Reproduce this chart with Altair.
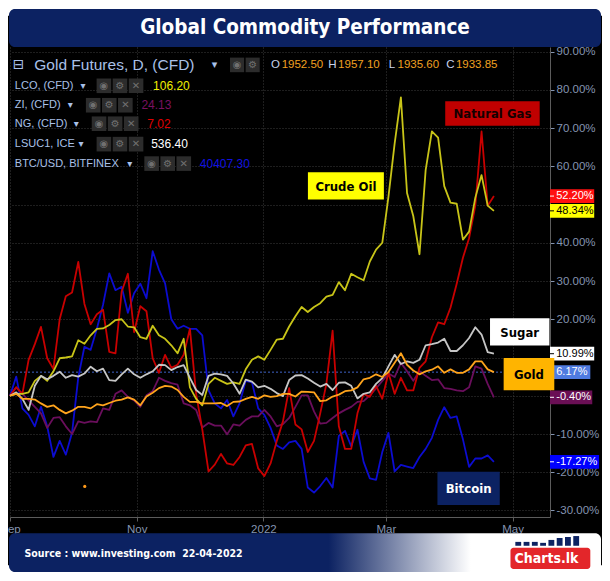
import altair as alt
import pandas as pd

# ---------------- data (percent change since 1 Sep 2021) ----------------
dates = pd.date_range("2021-09-01", "2022-04-22", periods=79).round("h")

crude_oil = [0, 0.5, 0.5, 0.9, 3.9, 5.2, 3.9, 6.4, 9.8, 10, 10.3, 14.5, 13.6, 15.8, 17.5, 17.6, 18.5, 19.8, 20, 18.1,
             17.9, 15.3, 14.9, 18.3, 15.8, 14.9, 13.2, 11.1, 14.9, 2.2, -0.8, -2.5, 3.1, 4.7, 3.9, 3.1, 3.5, 3.1, 6.9, 9.4,
             10.3, 9.4, 12, 14.7, 14.9, 18.1, 20.8, 23.2, 21.9, 23.2, 24.2, 25.9, 26.4, 29.7, 27.6, 31.9, 31, 30.2, 35.1, 38.2,
             40, 52, 66, 78, 53, 47, 37, 59, 69.1, 67.5, 54.8, 50.5, 50.2, 40.8, 42.9, 51.8, 57.7, 49.7, 48.34]
natural_gas = [0, 2.2, 0.5, 9.4, 13.5, 18, 9.8, 7, 20, 26, 27, 35, 24, 18.7, 21.3, 22.5, 11.5, 11.1, 27.2, 31.9,
               16.6, 23.4, 22.1, 9.8, 6, 10.7, 7.3, 8.1, 10.7, 17.5, 0.5, -8.8, -19.8, -18, -15.2, -17.7, -18.1, -16, -13, -12.6,
               -19, -21, -17.7, -11.8, -6.7, 2, -7.5, -8.8, -14.7, -11.8, -4.6, 3.1, 17, -8, -13.9, -13.9, -4.6, 0.5, -0.3, 2.6,
               -0.8, 6, 0.5, 4.7, 1.4, 1.4, 7.3, 9, 15.3, 19.2, 18.7, 23, 29.3, 36.1, 41.2, 49.7, 69.1, 49.7, 52.2]
zinc = [0, 2.2, 0.5, -1.2, -2.9, -4.6, -8.4, -5.8, -5.6, -8, -10, -6.7, -7.1, -6.7, -6.9, -3.3, -3.7, 0.5, 1.4, -0.3,
        -1.2, -2.9, 0.1, 1.2, 4.7, 3.9, 3.3, 2.9, -2, -2.5, -3.7, -8.3, -7.1, -7.8, -7.8, -10.1, -7.5, -7.8, -6.3, -5.4,
        -5.4, -3.7, -5.4, -8, -7.4, -5.8, -2.9, 0.1, 0.1, -4.1, -7.3, -7.1, -5.8, -4.6, -3.7, -2.9, -1.6, -1.4, 0.1, 1.9,
        3.9, 5.8, 4.9, 8.6, 6.4, 3.9, 6.4, 5.2, 4.1, 4.3, 2, 1.8, 1.4, 1.2, 2.2, 7.7, 7.1, 3.1, -0.4]
sugar = [0, 0.9, -0.8, -3.7, 2.6, 5.2, 4.3, 5.2, 6.3, 4.7, 5.4, 5, 5.8, 7.6, 6.4, 7.1, 4.1, 3.9, 5.6, 7.1,
         5.6, 4.7, 5.6, 6.4, 8.1, 8, 6.7, 7.5, 8, 4.7, 1.5, 0.2, 5.2, 5.8, 5.6, 5.2, 3.2, 0.5, 4.2, 3.7,
         2.2, 2.6, 1.8, 0.7, -0.1, 4.1, 5.3, 5.4, 4.5, 3.4, 2.4, 3.1, 1.5, 3.4, 3.5, 2.6, -0.7, 0.5, 0.9, 3.1,
         4.6, 7.7, 10.7, 8.3, 9, 8.6, 9.4, 13.2, 13.5, 13.9, 14.9, 11.7, 11.7, 13.2, 15.1, 17.9, 16, 11.4, 10.99]
gold = [0, 0.5, -0.8, -0.8, -1, -2, -2.9, -2.5, -3.7, -4.6, -3.9, -2.9, -2.9, -3.3, -2.2, -2.5, -1.9, -1.3, -1, -0.4,
        -1, -2.5, -0.2, 0.8, 2, 2.6, 2.4, 1.5, -0.3, -1.6, -1.6, -2, -2, -2, -1.9, -2.7, -1.6, -1.5, -0.8, -0.3,
        -0.8, 0.1, -0.3, -0.1, 0.5, 0.5, -0.2, 1.1, 1, 0.9, -1.4, -1.2, -0.2, 0.3, 1.2, 1.4, 2.2, 4.3, 4.7, 5.6,
        4.9, 6.2, 8.6, 11.1, 8.1, 6.6, 5.6, 6.4, 6.8, 7.7, 6, 6.9, 6, 6, 6.9, 9, 9, 6.9, 6.17]
bitcoin = [0, 5, -3.3, -5, -8, -2.9, -8, -16, -11.8, -15.4, -9.7, 4.8, 12.8, 12, 17.5, 23.8, 32, 27.6, 28.5, 21.7,
           26.8, 29.3, 25.5, 37.8, 33, 29.4, 20, 17.5, 18.3, 17.5, 17.5, 15.8, 1.5, -2, -3.3, -1.1, -5.4, -2, 3.9, 3.5,
           -3.3, -5, -8.4, -13, -13.9, -12.2, -11.8, -13.9, -24, -25.3, -23.6, -21.5, -24, -10.5, -9.2, -13.2, -8.9, -17.3, -21.6, -22,
           -14.7, -9.7, -19.8, -18.1, -18.5, -18.9, -16, -13.9, -11, -6.3, -3, -5.8, -5.4, -11.4, -18.6, -16.4, -16.4, -15.6, -17.27]

series_names = ["Bitcoin", "Zinc", "Natural Gas", "Crude Oil", "Sugar", "Gold"]
series_values = [bitcoin, zinc, natural_gas, crude_oil, sugar, gold]
series_colors = ["#0c0cd0", "#6a0e5c", "#c80000", "#c8c418", "#c6c6c6", "#ffa41c"]

tag_values = [52.20, 48.34, 10.99, 6.17, -0.40, -17.27]
tag_labels = ["52.20%", "48.34%", "10.99%", "6.17%", "-0.40%", "-17.27%"]
tag_fills = ["#ff1010", "#ffff00", "#ffffff", "#4f7be0", "#6a0f55", "#0000ff"]
tag_text_colors = ["#ffffff", "#000000", "#000000", "#ffffff", "#ffffff", "#ffffff"]
tag_right = [602, 602, 602, 598, 600, 607]

marker_date = ["2021-10-07"]
marker_value = [-23.7]

y_ticks = list(range(-30, 100, 10))
y_hidden_labels = [50, 10, 0]  # covered by the last-value tags
x_tick_dates = [(2021, 9, 1), (2021, 11, 1), (2022, 1, 1), (2022, 3, 1), (2022, 5, 1)]

# ---------------- layout ----------------
CW, CH = 594, 565
PL, PT = 2, 39
W, H = 540, 470
SX, SY = CW / 610, CH / 581


def X(r):
    return r * SX - PL


def Y(r):
    return r * SY - PT


COND = "Liberation Sans Narrow, DejaVu Sans Condensed, Roboto, sans-serif"
SANS = "Liberation Sans, Arial, sans-serif"
GLYPH = "DejaVu Sans, sans-serif"
AXIS_COL = "#8494b0"
GRID_COL = "#3c3c3c"
LEG_COL = "#a9c0e8"

blank = pd.DataFrame({"a": [0]})


def box(x1, y1, x2, y2, **kw):
    return alt.Chart(blank).mark_rect(**kw).encode(
        x=alt.value(X(x1)), x2=alt.value(X(x2)), y=alt.value(Y(y1)), y2=alt.value(Y(y2)))


def label(x, y, text, **kw):
    kw.setdefault("align", "left")
    kw.setdefault("baseline", "middle")
    return alt.Chart(pd.DataFrame({"t": [text]})).mark_text(**kw).encode(
        x=alt.value(X(x)), y=alt.value(Y(y)), text="t:N")


x_scale = alt.Scale(domain=[alt.DateTime(year=2021, month=9, date=1),
                            alt.DateTime(year=2022, month=5, date=19)])
y_scale = alt.Scale(domain=[-31.7, 91.18], nice=False, zero=False)

hidden_test = " || ".join(f"datum.value == {v}" for v in y_hidden_labels)
x_axis = alt.Axis(
    values=[alt.DateTime(year=a, month=b, date=c) for a, b, c in x_tick_dates],
    labelExpr="month(datum.value) == 0 ? timeFormat(datum.value, '%Y') : timeFormat(datum.value, '%b')",
    title=None, grid=True, gridColor=GRID_COL, gridDash=[1, 2], gridWidth=1,
    domainColor="#5c5c5c", tickColor="#5c5c5c", tickSize=4, labelColor=AXIS_COL,
    labelFont=SANS, labelFontSize=11.5, labelPadding=2, labelFlush=False)
y_axis = alt.Axis(
    orient="right", values=y_ticks,
    labelExpr="(" + hidden_test + ") ? '' : replace(format(datum.value, '.2f'), '\u2212', '-') + '%'",
    title=None, grid=True, gridColor=GRID_COL, gridDash=[1, 2], gridWidth=1,
    domainColor="#5c5c5c", tickColor=AXIS_COL, tickSize=4, labelColor=AXIS_COL,
    labelFont=SANS, labelFontSize=11.5, labelPadding=2)


def xenc(field):
    return alt.X(field, type="temporal", scale=x_scale, axis=x_axis)


def yenc(field):
    return alt.Y(field, type="quantitative", scale=y_scale, axis=y_axis)


layers = []

# white strips behind rounded banner corners
layers.append(box(0, 0, 610, 8, fill="#ffffff"))
layers.append(box(0, 573, 610, 581, fill="#ffffff"))

# price line of gold (dashed blue)
layers.append(alt.Chart(pd.DataFrame({"v": [gold[-1]]})).mark_rule(
    color="#3f63c8", strokeDash=[2, 2], strokeWidth=1).encode(y=yenc("v")))

# series lines
for name, vals, col in zip(series_names, series_values, series_colors):
    df = pd.DataFrame({"date": dates, "v": vals, "series": name})
    layers.append(alt.Chart(df).mark_line(color=col, strokeWidth=1.8, strokeJoin="round").encode(
        x=xenc("date"), y=yenc("v")))

layers.append(alt.Chart(pd.DataFrame({"date": pd.to_datetime(marker_date), "v": marker_value})).mark_circle(
    color="#ff9a1a", size=10, opacity=1).encode(x=xenc("date"), y=yenc("v")))

# last value tags on the right axis
for v, t, f, tc, r in zip(tag_values, tag_labels, tag_fills, tag_text_colors, tag_right):
    d = pd.DataFrame({"v": [v], "t": [t]})
    base = alt.Chart(d).transform_calculate(lo="datum.v - 1.8", hi="datum.v + 1.8")
    layers.append(base.mark_rect(fill=f).encode(
        x=alt.value(W), x2=alt.value(X(r)), y=yenc("lo"), y2=alt.Y2("hi")))
    layers.append(base.mark_rule(color=tc, strokeWidth=1).encode(
        x=alt.value(W), x2=alt.value(W + 4), y=yenc("v")))
    layers.append(base.mark_text(color=tc, font=SANS, fontSize=11, align="left", baseline="middle").encode(
        x=alt.value(X(563)), y=yenc("v"), text="t:N"))

# annotation boxes
annos = [
    ("Crude Oil", 308, 169, 386, 197, "#ffff00", "#000000"),
    ("Natural Gas", 449, 96, 546, 121, "#c00000", "#140000"),
    ("Sugar", 495, 319, 556, 347, "#ffffff", "#000000"),
    ("Gold", 509, 360, 561, 393, "#ffb400", "#000000"),
    ("Bitcoin", 441, 477, 505, 511, "#0c2262", "#ffffff"),
]
for txt, x1, y1, x2, y2, f, tc in annos:
    layers.append(box(x1, y1, x2, y2, fill=f))
    layers.append(label((x1 + x2) / 2, (y1 + y2) / 2 + 1, txt, align="center", color=tc,
                        font=COND, fontSize=13, fontWeight="bold"))

# legend block (top-left)
layers.append(label(11, 59, "\u229f", align="center", color=LEG_COL, font=GLYPH, fontSize=14))
layers.append(label(27, 59, "Gold Futures, D, (CFD)", color=LEG_COL, font=SANS, fontSize=15.5))
layers.append(label(212, 59, "\u25be", align="center", color=LEG_COL, font=GLYPH, fontSize=11))
for i, g in enumerate(["\u25c9", "\u2699"]):
    x0 = 228 + i * 16
    layers.append(box(x0, 51, x0 + 14.5, 66, fill="#2c2c2c"))
    layers.append(label(x0 + 7.25, 59, g, align="center", color="#707070", font=GLYPH, fontSize=10))
ohlc = [("O", 270, "1952.50", 281), ("H", 329, "1957.10", 339), ("L", 391, "1935.60", 400),
        ("C", 450, "1933.85", 460)]
for k, kx, val, vx in ohlc:
    layers.append(label(kx, 59, k, color="#c8d4ec", font=SANS, fontSize=11.5))
    layers.append(label(vx, 59, val, color="#f0a020", font=SANS, fontSize=11.5))

legend_rows = [
    ("LCO, (CFD)", 80, 77, 91, "106.20", 149, "#f0f000"),
    ("ZI, (CFD)", 100, 64, 80, "24.13", 137, "#7a1062"),
    ("NG, (CFD)", 119, 70, 86, "7.02", 143, "#e00000"),
    ("LSUC1, ICE", 140, 75, 91, "536.40", 147, "#ffffff"),
    ("BTC/USD, BITFINEX", 160, 125, 140, "40407.30", 197, "#1010e0"),
]
for name, yy, ax, ix, val, vx, vc in legend_rows:
    layers.append(label(7, yy, name, color=LEG_COL, font=SANS, fontSize=11))
    layers.append(label(ax, yy, "\u25be", align="center", color=LEG_COL, font=GLYPH, fontSize=10))
    for j, g in enumerate(["\u25c9", "\u2699", "\u2715"]):
        x0 = ix + j * 16.5
        layers.append(box(x0, yy - 7.5, x0 + 15, yy + 7.5, fill="#2c2c2c"))
        layers.append(label(x0 + 7.5, yy, g, align="center", color="#707070", font=GLYPH, fontSize=10))
    layers.append(label(vx, yy, val, color=vc, font=SANS, fontSize=12))

# title banner
layers.append(box(1, 1, 609, 40, fill="#0c2262", cornerRadius=6))
layers.append(label(305, 21, "Global Commodity Performance", align="center", color="#ffffff",
                    font=COND, fontSize=20.5, fontWeight="bold"))

# footer banner
grad = alt.LinearGradient(
    gradient="linear", x1=0, x2=1, y1=0, y2=0,
    stops=[alt.GradientStop(offset=0, color="#0c2262"), alt.GradientStop(offset=0.54, color="#0c2262"),
           alt.GradientStop(offset=0.78, color="#ffffff"), alt.GradientStop(offset=1, color="#ffffff")])
layers.append(box(1, 540, 609, 580, fill=grad, cornerRadius=6))
layers.append(label(17, 561, "Source : www.investing.com \u00a022-04-2022", color="#ffffff",
                    font=COND, fontSize=10.5, fontWeight="bold"))
# Charts.lk logo
bar_h = [4, 4, 4, 3, 6, 8, 9, 10]
for k, hgt in enumerate(bar_h):
    bx = 521 + k * 8.5
    layers.append(box(bx, 553 - hgt, bx + 6, 553, fill="#0c2262"))
layers.append(box(516, 555, 598, 577, fill="#e3262a", cornerRadius=3))
layers.append(label(553, 566.5, "Charts.lk", align="center", color="#ffffff", font=COND,
                    fontSize=14, fontWeight="bold"))

chart = alt.layer(*layers).properties(
    width=W, height=H,
    padding={"left": PL, "top": PT, "right": CW - PL - W, "bottom": CH - PT - H},
    autosize=alt.AutoSizeParams(type="none"),
    background="#000000",
).configure_view(stroke=None)

chart.save("out.html", embed_options={"renderer": "svg", "actions": False})
